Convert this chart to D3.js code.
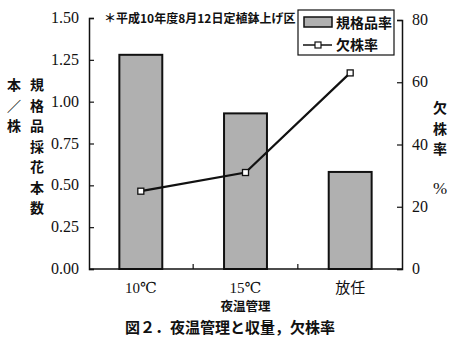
<!DOCTYPE html>
<html><head><meta charset="utf-8">
<script src="https://cdn.jsdelivr.net/npm/d3@7"></script>
<style>
body{margin:0;background:#fff;}
svg text{fill:#111;}
.num{font-family:"Liberation Serif","DejaVu Serif",serif;font-size:16px;}
.jp{font-family:"Noto Sans CJK JP",sans-serif;}
</style></head>
<body><svg id="c" width="462" height="346"></svg>
<script>
// 夜温管理別の規格品採花本数と欠株率
const categories = ["10℃", "15℃", "放任"];
const kikakuRate = [1.28, 0.93, 0.58];      // 規格品採花本数 (本/株)
const ketsukabuRate = [25, 31, 63];         // 欠株率 (%)
const leftTicks = [0, 0.25, 0.5, 0.75, 1.0, 1.25, 1.5];
const rightTicks = [0, 20, 40, 60, 80];

const svg = d3.select("#c");
const L = 89, R = 402, T = 18, B = 269;

const x = d3.scaleBand().domain(categories).range([L, R]).paddingInner(0.59).paddingOuter(0.29);
const yL = d3.scaleLinear().domain([0, 1.5]).range([B, T]);
const yR = d3.scaleLinear().domain([0, 80]).range([B, T + 2]);

// bars
svg.append("g").selectAll("rect").data(categories).join("rect")
  .attr("x", d => x(d)).attr("width", x.bandwidth())
  .attr("y", (d, i) => yL(kikakuRate[i])).attr("height", (d, i) => B - yL(kikakuRate[i]))
  .attr("fill", "#b0b0b0").attr("stroke", "#111").attr("stroke-width", 2);

// axes
const axL = svg.append("g").attr("transform", `translate(${L},0)`)
  .call(d3.axisRight(yL).tickValues(leftTicks).tickSize(5).tickFormat(""));
const axR = svg.append("g").attr("transform", `translate(${R},0)`)
  .call(d3.axisLeft(yR).tickValues(rightTicks).tickSize(5).tickFormat(""));
[axL, axR].forEach(a => { a.select(".domain").attr("stroke", "#111").attr("stroke-width", 1.5); a.selectAll("line").attr("stroke", "#111").attr("stroke-width", 1.2); });

svg.append("line").attr("x1", L).attr("x2", R).attr("y1", B).attr("y2", B).attr("stroke", "#111").attr("stroke-width", 1.5);
// separators between categories
const step = x.step();
[1, 2].forEach(i => {
  const sx = x(categories[i]) - (step - x.bandwidth()) / 2;
  svg.append("line").attr("x1", sx).attr("x2", sx).attr("y1", B).attr("y2", B - 5).attr("stroke", "#111").attr("stroke-width", 1.2);
});

// tick labels
svg.append("g").selectAll("text").data(leftTicks).join("text").attr("class", "num")
  .attr("x", 79).attr("y", d => yL(d) + 5).attr("text-anchor", "end").text(d => d.toFixed(2));
svg.append("g").selectAll("text").data(rightTicks).join("text").attr("class", "num")
  .attr("x", 412).attr("y", d => yR(d) + 5).text(d => d);

// category labels
svg.append("g").selectAll("text").data(categories).join("text")
  .attr("class", (d, i) => i < 2 ? "num" : "jp")
  .attr("x", d => x(d) + x.bandwidth() / 2).attr("y", 293).attr("text-anchor", "middle")
  .style("font-size", "15px").text(d => d);
svg.append("text").attr("class", "jp").attr("x", x(categories[1]) + x.bandwidth() / 2).attr("y", 311)
  .attr("text-anchor", "middle").style("font-size", "12.5px").style("font-weight", "bold").text("夜温管理");
svg.append("text").attr("class", "jp").attr("x", 230).attr("y", 333)
  .attr("text-anchor", "middle").style("font-size", "15px").style("font-weight", "bold").text("図２．夜温管理と収量，欠株率");

// line series
const pts = categories.map((c, i) => [x(c) + x.bandwidth() / 2, yR(ketsukabuRate[i])]);
svg.append("path").attr("d", d3.line()(pts)).attr("fill", "none").attr("stroke", "#111").attr("stroke-width", 2.2);
svg.append("g").selectAll("rect").data(pts).join("rect")
  .attr("x", d => d[0] - 3).attr("y", d => d[1] - 3).attr("width", 6).attr("height", 6)
  .attr("fill", "#fff").attr("stroke", "#111").attr("stroke-width", 1.3);

// note
svg.append("text").attr("class", "jp").attr("x", 104).attr("y", 23).style("font-size", "12px").style("font-weight", "bold")
  .text("＊平成10年度8月12日定植鉢上げ区");

// legend
const lg = svg.append("g");
lg.append("rect").attr("x", 298).attr("y", 10).attr("width", 96).attr("height", 45).attr("fill", "#fff").attr("stroke", "#111").attr("stroke-width", 1.2);
lg.append("rect").attr("x", 304).attr("y", 17).attr("width", 28).attr("height", 10).attr("fill", "#b0b0b0").attr("stroke", "#111").attr("stroke-width", 1.5);
lg.append("text").attr("class", "jp").attr("x", 336).attr("y", 28).style("font-size", "14px").style("font-weight", "bold").text("規格品率");
lg.append("line").attr("x1", 303).attr("x2", 332).attr("y1", 45).attr("y2", 45).attr("stroke", "#111").attr("stroke-width", 1.5);
lg.append("rect").attr("x", 315).attr("y", 42).attr("width", 6).attr("height", 6).attr("fill", "#fff").attr("stroke", "#111").attr("stroke-width", 1.2);
lg.append("text").attr("class", "jp").attr("x", 336).attr("y", 50).style("font-size", "14px").style("font-weight", "bold").text("欠株率");

// axis titles (vertical, one glyph per row)
const colL1 = ["規", "格", "品", "採", "花", "本", "数"];
const colL2 = ["本", "／", "株"];
svg.append("g").selectAll("text").data(colL1).join("text").attr("class", "jp")
  .attr("x", 37).attr("y", (d, i) => 90 + i * 20.5).attr("text-anchor", "middle")
  .style("font-size", "14px").style("font-weight", "bold").text(d => d);
svg.append("g").selectAll("text").data(colL2).join("text").attr("class", "jp")
  .attr("x", 14).attr("y", (d, i) => 90 + i * 20.5).attr("text-anchor", "middle")
  .style("font-size", "14px").style("font-weight", "bold").text(d => d);
const colR = ["欠", "株", "率"];
svg.append("g").selectAll("text").data(colR).join("text").attr("class", "jp")
  .attr("x", 440).attr("y", (d, i) => 113 + i * 20.5).attr("text-anchor", "middle")
  .style("font-size", "14px").style("font-weight", "bold").text(d => d);
svg.append("text").attr("class", "num").attr("x", 440).attr("y", 194).attr("text-anchor", "middle")
  .style("font-size", "17px").text("%");
</script></body></html>
